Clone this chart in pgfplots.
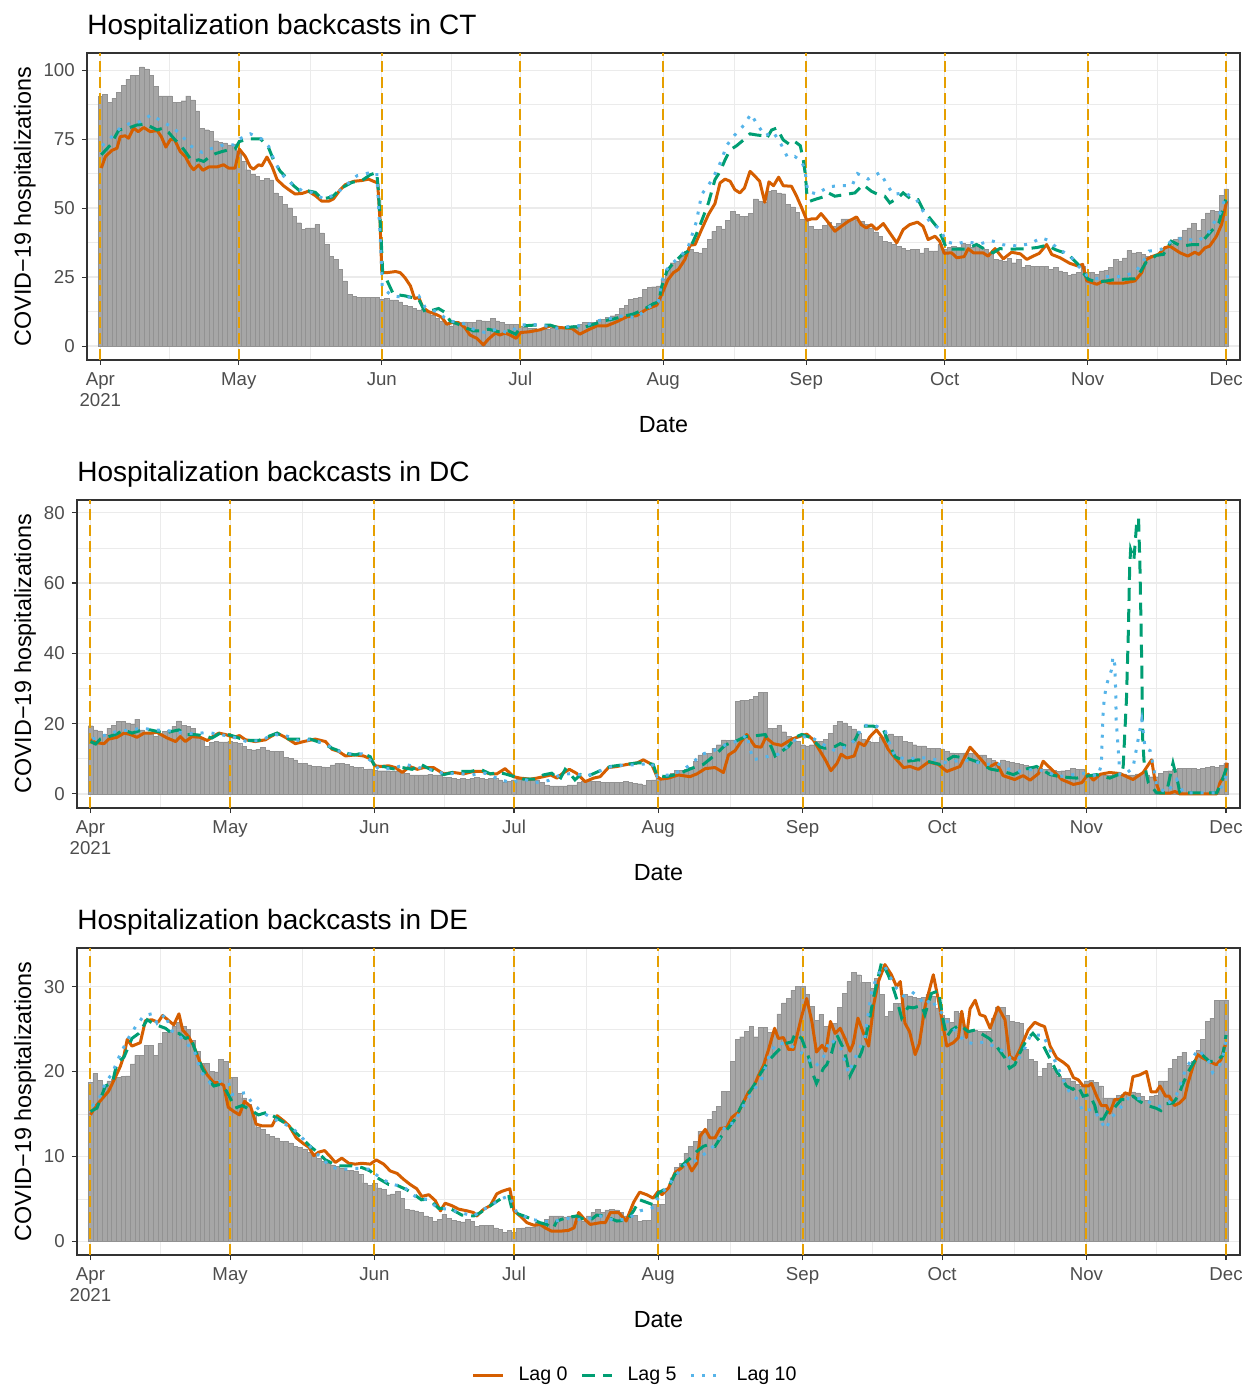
\documentclass[border=0pt]{standalone}
\usepackage{fontspec}
\setmainfont{Liberation Sans}
\usepackage{pgfplots}
\pgfplotsset{compat=1.18}
\definecolor{lag0}{HTML}{D55E00}
\definecolor{lag5}{HTML}{009E73}
\definecolor{lag10}{HTML}{56B4E9}
\definecolor{vlc}{HTML}{E69F00}
\definecolor{barfill}{HTML}{A6A6A6}
\definecolor{baredge}{HTML}{929292}
\definecolor{gridc}{HTML}{EBEBEB}
\definecolor{framec}{HTML}{333333}
\definecolor{tickc}{HTML}{4D4D4D}
\pgfplotsset{
  panel/.style={
    scale only axis, anchor=south west,
    xmin=-2.9, xmax=247,
    xtick={0,30,61,91,122,153,183,214,244},
    xticklabels={{Apr\\2021},May,Jun,Jul,Aug,Sep,Oct,Nov,Dec},
    minor xtick={15,45.5,76,106.5,137.5,168,198.5,229},
    grid=both,
    major grid style={gridc, line width=0.6pt},
    minor grid style={gridc, line width=0.3pt},
    axis line style={framec, line width=0.6pt},
    tick align=outside,
    xtick pos=left, ytick pos=left,
    major tick length=2.6pt, minor tick length=0pt,
    major tick style={framec, line width=0.55pt},
    minor tick style={draw=none},
    xticklabel style={font=\fontsize{9.33}{10.5}\selectfont, text=tickc, align=center},
    yticklabel style={font=\fontsize{9.33}{10.5}\selectfont, text=tickc},
    xlabel={Date}, ylabel={COVID−19 hospitalizations},
    label style={font=\fontsize{11.67}{14}\selectfont},
    xlabel style={at={(axis description cs:0.5,0)}, anchor=center, yshift=-32.5pt},
    title style={font=\fontsize{14}{16}\selectfont, anchor=base west, inner sep=0pt, at={(axis description cs:0,1)}, yshift=3pt},
    /pgf/number format/assume math mode=true,
  },
  barst/.style={ybar, bar width=1, bar shift=0pt, fill=barfill, draw=baredge, line width=0.2pt, forget plot},
  vlst/.style={vlc, line width=1pt, dash pattern=on 5.5pt off 2.5pt, forget plot, unbounded coords=jump},
  l0/.style={lag0, line width=1.5pt, line join=round},
  l5/.style={lag5, line width=1.5pt, dash pattern=on 6.5pt off 4pt},
  l10/.style={lag10, line width=1.5pt, dash pattern=on 1.5pt off 4pt},
}
\begin{document}
\begin{tikzpicture}
% ---------------- CT ----------------
\begin{axis}[panel, at={(43.5pt,514.5pt)}, width=576.5pt, height=153.5pt,
  ymin=-5.05, ymax=106.2, ytick={0,25,50,75,100}, minor ytick={12.5,37.5,62.5,87.5},
  ylabel style={at={(axis description cs:-0.0538,0.5)}, anchor=center},
  title={Hospitalization backcasts in CT}]
\addplot[barst] table[x expr=\coordindex, y index=0, header=false, row sep=\\] {
90.4\\91.3\\88.2\\89.8\\92\\94.6\\96.7\\98.2\\98.2\\101.2\\100.4\\98.2\\94\\90.7\\90.7\\90.7\\88.2\\88.2\\88.9\\90.7\\89.2\\85.2\\79\\78.4\\77.8\\74.4\\73.8\\73.6\\72.9\\73.3\\
69.9\\66.9\\63.9\\62.1\\61.5\\60\\60.9\\60.2\\55.5\\54.3\\51.3\\50.1\\47\\44.7\\42.2\\42.8\\42.8\\44\\41\\36.8\\32.6\\31.4\\27.8\\23.6\\18.8\\17.9\\17.6\\17.6\\17.6\\17.6\\17.6\\
17\\17.2\\16.7\\16.7\\16\\14.8\\14.3\\13.6\\13.1\\13.3\\12.4\\11.2\\10\\9.1\\7.9\\7.3\\7.9\\8.5\\8.8\\8.5\\8.5\\9.5\\9.1\\8.9\\10\\9.1\\8.5\\7.9\\7.9\\7.9\\
7.3\\6.7\\6.4\\6.4\\6.1\\6.4\\6.1\\6.4\\6.1\\6.7\\6.7\\6.4\\7.6\\7.9\\8.5\\8.5\\8.5\\9.5\\9.8\\10.4\\11\\11.6\\13.6\\14.8\\17\\17.2\\17.6\\20.6\\21.2\\21.5\\21.8\\
24.2\\28\\30.2\\30.8\\32.6\\34.4\\35\\34\\33.8\\35.4\\38.6\\41.6\\43.4\\42.5\\45.5\\48.7\\47.7\\47\\47\\48\\53.3\\52.5\\52.1\\56.1\\56.5\\55.5\\55.2\\51.3\\50.4\\48.5\\45.8\\
45.2\\43.4\\42.2\\42.2\\43.8\\44.9\\43.4\\44.4\\46.1\\46.1\\45.8\\45.5\\45.2\\44\\42.8\\41.4\\39.8\\38\\37.7\\36.8\\36.2\\35.3\\34.8\\35\\35\\33.8\\35.3\\34.5\\34.5\\36.8\\
35\\35.7\\36.2\\35.7\\37.2\\36.8\\35.7\\36.8\\35.3\\35\\33.8\\31.4\\31.2\\30.8\\31.8\\30.2\\31.4\\28.4\\29.2\\29\\29\\29\\28.9\\27.8\\28.4\\27.2\\26.6\\25.6\\26.2\\26.6\\28.9\\
26.6\\26.6\\26\\27.2\\27.5\\28.4\\31.4\\30.8\\32\\34.7\\33.8\\34\\33.2\\32.6\\32.8\\32.6\\34.4\\36.2\\36.8\\38.6\\39.6\\41.9\\42.8\\44.4\\41.9\\45.8\\48.3\\49.3\\48.9\\54.5\\57\\
};
\addplot[vlst] coordinates {(0,-5.05)(0,106.2)(0,nan)(30,-5.05)(30,106.2)(30,nan)(61,-5.05)(61,106.2)(61,nan)(91,-5.05)(91,106.2)(91,nan)(122,-5.05)(122,106.2)(122,nan)(153,-5.05)(153,106.2)(153,nan)(183,-5.05)(183,106.2)(183,nan)(214,-5.05)(214,106.2)(214,nan)(244,-5.05)(244,106.2)};
\addplot[l0] coordinates {(0.2,64.5)(1.1,68.7)(2.5,70.9)(3.6,71.7)(4.3,75.9)(5.4,76.2)(6.1,75.3)(7.2,79)(8.2,77.7)(9.4,79.2)(10.8,77.7)(12.3,78.1)(13.2,75.9)(14.2,72.1)(15.2,74.9)(16.1,74.7)(17.3,70.5)(18.4,68.7)(19.5,65.3)(20.2,63.9)(21.3,65.6)(22.2,63.7)(23.5,64.9)(25.3,64.9)(26.7,65.7)(27.8,64.5)(29.2,64.5)(30.1,71.4)(31.4,68.7)(32.5,64.9)(33.2,64.1)(34.3,65.7)(35,65.3)(36.1,68.5)(37.2,65.1)(38.3,60.3)(39.7,58.1)(40.8,56.7)(42.2,55.1)(43.7,55.3)(45.1,56.1)(46.6,54.5)(48,52.5)(49.5,52.5)(50.5,53.3)(52,56.7)(53.1,58.5)(54.9,59.7)(56.7,60)(58.1,60.5)(59.2,59.7)(60.1,59.1)(60.6,45.8)(61,26.6)(62.1,26.6)(64,27)(65,26.6)(66,24.8)(67.2,21.8)(68.1,17.2)(69,17.6)(69.9,14)(71.1,12.5)(72.6,11.6)(74,10.4)(75.1,7.9)(76.2,8.5)(77.6,8.5)(79,6.7)(80.1,4)(81.6,2.8)(83,0.4)(84.1,2.5)(85.6,4.7)(86.6,4)(87.7,4.7)(88.8,4)(90.1,2.8)(91.1,4.9)(93.1,5.2)(95.3,5.9)(97.5,7.3)(99.6,6.7)(102.2,6.4)(103.9,4.3)(105.4,5.6)(107.6,7.3)(109.7,7.3)(111.9,8.8)(114.1,10.6)(116.2,11)(118.4,13.4)(120.6,14.8)(122,20)(123,24)(124.2,26.6)(125.3,27.8)(126.7,31.4)(127.8,36.5)(128.9,36.8)(130.3,42.2)(131.8,47.7)(133.2,51.6)(134.3,59.1)(135.4,60.5)(136.5,59.7)(137.5,56.7)(138.6,55.5)(139.6,57.3)(140.8,63.3)(141.9,61.5)(142.9,59.7)(144,52.1)(144.9,59.5)(145.9,58.1)(147,61.2)(148,58.1)(149.8,57.9)(150.9,54.3)(152,50.1)(153.1,45.6)(154.2,46.1)(155.2,46.1)(156.2,48)(157.4,45.6)(159.2,41.6)(160.6,43.4)(162.1,45.2)(163.9,46.8)(164.9,44)(166,42.8)(167.1,44)(168.2,42.2)(169.7,44.4)(171.1,41)(172.6,37.4)(174,42.2)(175.4,44)(177.1,44.9)(178.3,43.4)(179.4,38.6)(180.9,39.8)(181.9,38)(182.9,33.6)(184.5,33.8)(185.6,32)(187.2,32.4)(188.1,35.3)(189.2,33.8)(191.3,33.8)(192.4,32.6)(193.9,35.3)(195.7,31.6)(197.5,34)(199.4,33.4)(200.8,31.4)(202.2,32.6)(203.5,33.6)(205.1,36.8)(206.2,33.2)(208,32)(210.1,30)(211.9,29)(212.9,29.6)(213.8,23.6)(216,22.4)(217.4,23.6)(218.8,22.8)(221.7,22.8)(224.2,23.6)(225.7,26.6)(226.7,31.4)(228.2,32.6)(229.3,33.2)(230.7,35.6)(231.8,36.2)(234,33.8)(235.7,32.6)(237.2,34)(238.1,33.2)(239.4,35.6)(240.4,36.2)(241.9,39.8)(243,44)(244.1,52.5)};
\addplot[l5] coordinates {(0.2,69.3)(2.2,72.9)(4,78.3)(6.1,79)(7.9,80.1)(9.7,80.5)(12.3,78.3)(13.7,79)(14.8,77.4)(16.2,74.7)(17.3,72.9)(18.4,70.5)(19.9,66.9)(21.3,67.5)(22.4,66.9)(23.8,68.7)(24.9,69.7)(26.4,70.5)(27.8,71.1)(29.2,71.4)(30.1,74.1)(32.1,75.1)(34.7,75.1)(36.5,71.7)(37.5,67.5)(39,63.3)(40.4,60.9)(41.9,58.1)(43.3,56.1)(44.8,56.3)(46.6,55.7)(48,53.3)(50.2,54)(52.3,57.3)(54.5,59.3)(56.7,60)(58.5,62.1)(59.9,62.9)(60.3,55.5)(60.9,37.4)(61.2,26)(62,24.2)(63.5,18.8)(66,18.2)(69,17)(70.4,12.2)(73.3,13.6)(74.7,12.2)(75.8,9.1)(77.6,7.9)(79,6.7)(80.9,5.5)(82.3,5.5)(84.1,6.1)(86.3,5.2)(88.5,5.5)(90,4.3)(91.3,7.3)(94.2,7.6)(97.5,7.6)(99.6,6.4)(102.5,7)(104.7,6.7)(106.9,7.9)(109,9.1)(111.2,9.8)(113.4,10.8)(115.5,11.6)(117.7,13.2)(119.9,15.4)(121,16)(121.7,21.8)(122.8,27.2)(123.8,29.3)(126,33)(127.4,34.4)(128.5,38)(129.6,42.2)(130.7,47)(131.8,51.9)(133.2,60.3)(134.3,63.2)(135.4,67.5)(136.5,71.1)(137.9,72.6)(139.4,74.7)(140.8,76.9)(142.2,76.5)(143.7,76.2)(144.4,75.2)(145.5,78.3)(146.6,79)(148,74.7)(149.5,72.9)(150.5,74.1)(151.7,72.6)(152.4,66.9)(152.8,62.1)(153.1,55.5)(153.8,52.5)(155.2,53.3)(156.6,54)(157.8,55.5)(159.2,54.3)(161.4,54.9)(163.5,55.5)(165.3,58.5)(167.1,56.1)(168.6,54.9)(170,54.3)(171.1,51.9)(172.9,53.7)(174,55.5)(175.8,53.1)(177.2,53.1)(178.3,49.5)(179.7,46.5)(181.2,43.4)(182.3,39.8)(183.4,35.3)(185.2,35.1)(187.4,35.1)(189.9,36.8)(191.7,35.1)(193.5,33.8)(194.9,35.3)(197.1,35.1)(200.8,35.3)(203,35.7)(205.1,36.5)(207.2,34.8)(208.6,34)(210.1,32.6)(211.9,29.6)(213,26.6)(214.1,24.2)(215.9,23.2)(218.1,23.6)(219.5,24)(221.7,24.2)(224.2,24.4)(225.3,26.6)(226.7,30.5)(228.9,32.9)(230.4,33.2)(232.1,38)(234.3,36.2)(236.8,36.8)(238.2,36.8)(239.7,39.6)(241.1,42.2)(242.4,44.6)(243.9,53.1)};
\addplot[l10] coordinates {(0.4,72.6)(2.5,75.9)(4.3,79)(6.5,80.8)(8.7,81.3)(11,83.8)(13.4,81.3)(15.4,79.5)(17.3,76.9)(19.5,72.6)(22,70.2)(24.3,71.7)(26.7,72.9)(28.9,72.9)(30.1,75)(32.5,76.9)(35,75)(36.5,72.3)(37.9,66.3)(39.7,61.6)(41.5,58.8)(43.7,56.3)(45.8,55.7)(48.4,53.3)(50.9,54.9)(53.4,58.5)(55.6,61.7)(58.1,62.7)(59.9,62.7)(60.3,50.6)(60.6,41)(61,26.6)(61.1,21.2)(63.2,18.2)(66,17.6)(69,18.2)(70.4,14)(73.3,12.2)(75.4,9.1)(78.3,8.5)(80.9,6.1)(83.4,4.9)(85.9,6.1)(88.5,4.7)(91,7.6)(93.5,7.9)(96.4,7.3)(99.3,6.4)(102.2,7.3)(105,7.3)(107.6,9.1)(110.5,10)(113.4,11)(116.2,10.2)(118.4,13.6)(120.9,16)(121.7,23.6)(122.8,27.8)(123.8,29.8)(125.6,32.3)(127.4,35.9)(129.2,45.2)(130.3,54.9)(132.1,59.1)(133.5,63.3)(134.7,67.7)(135.7,72.6)(137.5,76.5)(139.5,80.1)(141,84.1)(142.6,79.7)(144.1,76.2)(145.8,77.7)(147.6,72.9)(148.9,68.5)(150.5,68.7)(152,66.9)(152.7,63.9)(153.3,56.1)(155.2,55.1)(157.8,57.7)(160,58.1)(162.9,58.1)(164.1,62.5)(166.4,60.5)(169,62.9)(170.4,58.8)(171.8,55)(174.4,55.5)(176.9,53.1)(178.3,48.9)(179.7,45.2)(181.9,42.5)(183.4,37.8)(185.2,37)(187.7,37.8)(190.6,37)(193.1,38.2)(195.7,36.7)(198.6,36.3)(201.4,37)(203.9,39.2)(205.6,38.3)(207.6,35.1)(210.1,32.9)(211.9,29.2)(213.8,25.6)(216,24.4)(218.4,25.2)(221.3,25.2)(224.2,26.6)(226,30.5)(227.3,34.4)(230,35.1)(232.1,38)(234.7,39.2)(237.5,38)(239.7,39.8)(241.1,44)(242.6,47.9)(243.7,53.2)};
\end{axis}
% ---------------- DC ----------------
\begin{axis}[panel, at={(38.5pt,290.5pt)}, width=581.5pt, height=154pt,
  ymin=-4, ymax=83.6, ytick={0,20,40,60,80}, minor ytick={10,30,50,70},
  ylabel style={at={(axis description cs:-0.0447,0.5)}, anchor=center},
  title={Hospitalization backcasts in DC}]
\addplot[barst] table[x expr=\coordindex, y index=0, header=false, row sep=\\] {
19.4\\18.2\\17.9\\17\\18.7\\19.6\\20.6\\20.6\\20.2\\19.9\\21.3\\18.2\\17.3\\17\\16.4\\17\\17.8\\18.2\\19.2\\20.8\\19.6\\19.2\\18.7\\16.4\\15.5\\13.6\\14.6\\14.9\\14.8\\14.8\\
15.1\\14.6\\14.4\\13.6\\12.7\\12.5\\12.7\\13.2\\12.5\\12.2\\12.2\\12.2\\10.4\\10.2\\9.7\\8.7\\8.7\\8.3\\7.8\\7.8\\7.7\\7.5\\8.3\\8.7\\8.7\\8.5\\7.8\\7.5\\7.5\\7\\7.1\\
6.8\\6.6\\6.6\\6.6\\6.4\\6.6\\6.1\\5.9\\5.4\\5.4\\5.4\\5.4\\5.6\\5.4\\5.4\\4.7\\4.7\\4.5\\4.2\\4.5\\4.2\\4.5\\4.7\\4.5\\4.2\\4.5\\4.5\\4\\3.2\\3.5\\
4\\4.2\\4.5\\4.5\\4\\4\\3.2\\2.6\\2.3\\2.3\\2.3\\2.3\\2.6\\2.6\\3.2\\3.5\\3.5\\3.6\\3.5\\3.2\\3.2\\3.2\\3.2\\3.2\\3.5\\3.2\\3\\2.9\\2.6\\3.8\\4\\
4.7\\4.5\\4.9\\5.9\\6.8\\6.8\\7\\7.6\\9.2\\11.1\\11.6\\11.6\\13\\14\\15.4\\15.2\\15.4\\26.3\\26.6\\26.6\\27\\27.7\\28.9\\28.9\\18.7\\18.7\\19.6\\17.7\\16.3\\16.1\\14.9\\
14\\13.7\\14\\14.9\\14.9\\15.6\\17.3\\19.6\\20.6\\20.2\\19.2\\18.5\\17.3\\15.6\\14.9\\14.7\\14.6\\16.1\\16.8\\17.1\\16.3\\16.3\\14.9\\14.7\\14\\13.7\\13.7\\13\\13\\13\\
12.8\\12.1\\11.7\\11.6\\11.6\\11.7\\11.6\\11.6\\11.1\\11.1\\10.2\\9.5\\8.7\\9.7\\9.2\\9\\8.7\\8.5\\8.1\\7.9\\7.5\\7.2\\7\\7\\6.8\\6.4\\6.6\\6.8\\7.2\\7\\7\\
5.7\\5.4\\5.4\\5.7\\5.4\\5.4\\6.1\\5.7\\5.7\\5.4\\5.4\\5.7\\5.9\\5.4\\4.9\\4.9\\5.9\\6.4\\6.6\\6.9\\7.2\\7.2\\7.2\\7.2\\6.9\\7.2\\7.6\\7.8\\7.6\\8.2\\8.7\\
};
\addplot[vlst] coordinates {(0,-4)(0,83.6)(0,nan)(30,-4)(30,83.6)(30,nan)(61,-4)(61,83.6)(61,nan)(91,-4)(91,83.6)(91,nan)(122,-4)(122,83.6)(122,nan)(153,-4)(153,83.6)(153,nan)(183,-4)(183,83.6)(183,nan)(214,-4)(214,83.6)(214,nan)(244,-4)(244,83.6)};
\addplot[l0] coordinates {(0,15.4)(1.1,14.6)(2.9,14.3)(3.9,15.6)(5.7,16.1)(7.2,17.3)(8.6,16.9)(10,16.1)(11.5,17.3)(12.9,17.3)(14.3,17.5)(16.5,15.9)(18.3,14.9)(19.3,16.3)(20.4,14.9)(21.8,16.3)(23.6,16.1)(25.1,15.2)(26.5,16.5)(27.6,17.3)(29,16.9)(30.8,16.1)(32,16.6)(33.3,15.4)(35.4,14.9)(37.6,15.4)(38.7,16.3)(40.1,17.3)(41.9,16.1)(44,14.3)(45.8,14.9)(48.3,15.6)(50.5,14.9)(51.9,12.7)(53.3,12.1)(54.8,10.8)(56.9,11.1)(58.7,10.8)(60.1,10)(61.2,8)(62.3,7.8)(64.1,8)(65.5,7.5)(67,6.1)(68.6,7.8)(70.2,7)(71.6,7.5)(73.7,7.5)(75.9,5.7)(78,6.1)(80.2,5.7)(82.3,6.4)(84.1,6.4)(85.9,5.7)(87.3,5.7)(89.1,7.2)(90.9,4.9)(92.3,4.5)(94.5,4.2)(95.9,4.5)(97.3,4.9)(98.9,5.4)(100.2,4.5)(101.5,5.9)(102.9,7)(104.4,5.9)(106.3,3.5)(108.1,4.5)(109.5,4.9)(111.3,7.5)(113.1,7.8)(115.3,8.4)(117.4,8.8)(118.8,9.7)(120.6,8.4)(121.7,5)(122.5,4.2)(124.2,4.5)(126.3,5.4)(128.8,4.9)(130.3,5.7)(132.1,7.2)(134.2,7.5)(136,6.1)(137.1,11.1)(138.5,12.3)(139.8,14.9)(141,16.9)(142.8,13.5)(144.1,13.3)(145.1,16.1)(146.7,14.3)(148.5,13.8)(150.7,15.6)(152.3,16.3)(153.9,17)(155.3,15.4)(156.4,13)(157.9,9.7)(159.1,6.6)(160.4,8.7)(161.3,11.3)(162.5,10.2)(164.1,10.8)(165.1,14.6)(166.3,13.7)(167.5,16.3)(168.9,18.2)(170,16.3)(171.4,12.7)(172.9,10.2)(174.7,7.5)(176.1,7.8)(177.9,7)(180.1,9.1)(182.2,8.4)(184,6.4)(186.8,7.8)(189,13.3)(191.1,10.2)(192.9,7.5)(194.7,8.8)(196.1,5.2)(198.6,4.1)(200.4,5.2)(201.9,3.9)(203.7,5.8)(204.7,9.3)(206.5,7)(208.7,4.1)(211.2,2.7)(213,3.2)(214.4,5.6)(215.5,3.9)(217,5.6)(219,6.1)(221.2,5.8)(224,4.1)(226.2,6.1)(228,9.7)(228.7,4.1)(229.8,0.2)(231.9,0.2)(233,0.7)(234.1,0)(242,0)(242.7,3.2)(243.8,5.6)(244.2,8.9)};
\addplot[l5] coordinates {(0,14.9)(1.1,14.2)(2.1,15.6)(5.4,16.9)(7.2,18.2)(8.9,17.3)(11.1,18.2)(12.9,18.2)(14.3,17.8)(16.1,17.3)(17.5,17.8)(19,18.2)(20.4,16.9)(22.2,16.9)(24.3,16.6)(26.1,15.9)(27.9,17.3)(30.4,16.6)(33.3,15.2)(36.1,15.2)(38.7,16.6)(40.1,17.3)(42.6,15.6)(44.7,15.6)(47.2,15.6)(50.1,14.3)(51.9,13)(53.3,12.3)(55.5,11.4)(56.9,11.1)(58.3,11.6)(60.1,10.6)(61.1,7.8)(63,7.8)(65.1,7.1)(67,7.5)(69.1,7)(71,8.4)(73,7)(75.9,5.5)(78.7,6.4)(81.7,6.4)(83.8,7)(85.9,5.7)(87.7,6.1)(89.1,5.7)(90.6,5.1)(93.1,4.2)(95.9,4.2)(97.3,5.4)(99.1,5.9)(100.8,4)(102,7)(103.1,5.7)(104.1,4)(105.3,5.5)(106.6,4.9)(109.5,6.6)(111.7,7.8)(114.5,8.3)(117.4,8.8)(119.5,8.8)(120.9,8.4)(121.7,5.2)(123.8,4.9)(126.3,5.7)(129.6,7.5)(131.7,8.4)(134.2,11.1)(136.5,14)(138.5,14.9)(140.7,16.3)(143.2,16.6)(145,16.9)(146.4,13)(147.1,10.8)(150,13.5)(151.4,16.1)(152.8,16.9)(154.6,16.1)(156.8,13.3)(157.9,13)(160,13.5)(161.1,14.3)(162.5,13.5)(164.3,15.4)(165.7,19.3)(168.2,19.3)(170.4,18.2)(171.8,13.5)(172.9,10.6)(175,9.2)(177.9,9.7)(180.1,9.2)(182.5,8.4)(185.4,10.7)(188.3,10.2)(191.2,8.8)(193.3,7.1)(196.1,6.4)(198.3,5.5)(201.1,7.1)(203.3,7.8)(206.2,5.5)(208.3,4.9)(211.9,4.5)(213.3,4.9)(216.2,5.5)(219,4.5)(221.6,5.9)(221.9,7.8)(222.6,26.8)(223,45.7)(223.3,64.7)(223.5,69.5)(224.2,66.6)(224.8,77.1)(225.2,78.5)(225.5,64.7)(225.9,36.2)(226.1,15.4)(226.4,8.8)(227.3,3.2)(229.1,0.3)(231.2,0.3)(232.6,8.8)(233.5,4.1)(234.1,0.3)(242,0.3)(243,3.2)(244.2,7.8)};
\addplot[l10] coordinates {(0.4,15.6)(2.9,16.6)(5.7,17.8)(8.6,18.2)(11.1,18.7)(13.6,18.2)(16.5,18)(19.3,17.5)(22.2,17.1)(25.1,17.5)(27.9,16.9)(30.8,16.1)(33.6,14.9)(36.5,15.2)(39.4,16.9)(41.9,16.6)(44.7,15.2)(47.6,15.4)(50.5,14.2)(53,12.3)(55.8,11.4)(58.3,11.4)(60.5,9.2)(61.9,7.1)(64.8,7.2)(67.7,8.4)(70.5,7.5)(73.3,6.8)(76.2,5.7)(79,5.9)(81.9,5.4)(84.8,5.9)(87.3,4.5)(90.2,3.2)(93.1,4.2)(95.5,3.2)(98.4,3.8)(100.9,5.4)(103.8,5.9)(106.5,5)(109.5,6.6)(112,7.8)(114.9,8.3)(117.7,8.3)(120.6,8.8)(121.8,5)(124.2,5.4)(127.1,6.6)(129.2,8.7)(131.4,11.3)(133.9,12.3)(136.5,14)(139.9,15.4)(141,17)(141.7,12.9)(142.4,9.7)(145.3,10.6)(147.8,11.3)(150,13.7)(152.1,16.3)(154.9,16.1)(157.5,14)(160,12.3)(162.5,13.5)(164.3,15.4)(166.1,19.5)(168.6,19.5)(170.8,17.8)(171.8,14)(172.9,10.6)(175.4,9.9)(178.2,10.4)(181.1,9.9)(184,8.8)(186.5,9.5)(189.3,9.5)(192.2,8.3)(194.7,8.8)(197.2,7.1)(200,6.4)(202.8,7.1)(205.4,6.4)(207.8,4.9)(210.8,5.4)(213.7,5.9)(216.5,5.1)(217.2,8.3)(217.4,16.3)(217.6,23.9)(217.9,27.6)(218.3,31)(219.4,35.3)(219.7,39)(220.1,36.7)(220.3,28.6)(220.4,21)(220.8,13.5)(221.2,5.5)(222.2,5.5)(224,7.4)(225.1,15.4)(225.9,21.1)(226.6,13)(227.7,12.3)(228.4,7.8)(229.1,2.1)(231.2,0.3)(233.4,4.1)(234.8,0.3)(242,0.3)(243.4,2.7)(244.2,6)};
\end{axis}
% ---------------- DE ----------------
\begin{axis}[panel, at={(38.5pt,67pt)}, width=581.5pt, height=153.5pt,
  ymin=-1.6, ymax=34.55, ytick={0,10,20,30}, minor ytick={5,15,25},
  ylabel style={at={(axis description cs:-0.0447,0.5)}, anchor=center},
  title={Hospitalization backcasts in DE},
  legend columns=3,
  legend style={at={(axis description cs:0.4807,-0.392)}, anchor=center, draw=none, fill=none,
    font=\fontsize{9.8}{11.5}\selectfont,
    /tikz/every odd column/.append style={column sep=5pt},
    /tikz/every even column/.append style={column sep=4.5pt}},
  legend image code/.code={\draw[#1] (0pt,0pt) -- (15pt,0pt);}]
\addplot[barst] table[x expr=\coordindex, y index=0, header=false, row sep=\\] {
18.7\\19.8\\19\\18.3\\18.9\\19.1\\19.3\\19.4\\19.5\\20.9\\21.9\\21.9\\23.1\\23.1\\21.9\\23.3\\24.6\\24.6\\25.3\\25.8\\25.3\\25\\23.7\\22.4\\21\\21\\20\\19.9\\21.4\\21.2\\
19.3\\19.3\\17.4\\16.9\\16.1\\15.1\\13.4\\13.2\\12.6\\12.4\\12.2\\11.8\\11.8\\11.6\\11.2\\11.1\\10.9\\10.5\\10\\9.8\\9.4\\9.2\\9\\8.8\\8.6\\8.4\\8.4\\8.3\\7.9\\6.9\\6.6\\
6.8\\6.3\\6.1\\5.5\\5.6\\5.9\\5.1\\3.8\\3.7\\3.6\\3.4\\3\\2.8\\2.4\\2.6\\3.2\\2.7\\2.5\\2.4\\2.3\\2.6\\2.4\\1.8\\1.9\\1.9\\1.9\\1.6\\1.4\\1.1\\1.3\\
1.1\\1.5\\1.6\\1.7\\1.7\\2.3\\2.3\\2.6\\3\\3\\3\\2.9\\3\\2.9\\3\\2.4\\3\\3.4\\3.8\\3.4\\3.7\\3.8\\3.7\\3.4\\3\\3\\3.1\\2.4\\2.5\\2.5\\4.4\\
4.4\\4.4\\6.3\\7.5\\8.7\\9.2\\10.4\\11.2\\11.8\\13\\13\\14.4\\15.3\\15.9\\17.7\\17.7\\21.2\\23.8\\24.1\\24.7\\25.3\\24.1\\25.2\\25.2\\24.6\\24.7\\26.8\\28.1\\28.6\\29.6\\30\\
30\\29.1\\27.7\\26\\26.7\\25.3\\25.4\\25.7\\27.6\\29.2\\30.6\\31.7\\31.4\\30.5\\30.5\\29.8\\31\\29.1\\26.5\\27.1\\28\\28\\29.1\\28.9\\28.7\\28.6\\28.7\\29.1\\28.9\\27.5\\
26.6\\26.3\\25.8\\27.1\\26.9\\25.2\\24.7\\24.9\\24.7\\24.7\\24.7\\26.3\\27.6\\27.6\\26.6\\25.9\\25.8\\25.7\\22.6\\21.4\\21.2\\19.4\\20.4\\21\\20.4\\19.4\\19.2\\19.2\\18.9\\18.5\\18.3\\
18.9\\19\\18.7\\18.3\\16.9\\16.9\\16.9\\17.2\\17.3\\17.5\\17.6\\17.5\\17.1\\16.6\\17.1\\17.2\\18.9\\18.9\\20.4\\21.4\\21.8\\22.3\\20.8\\21.2\\22.5\\23.8\\25.9\\26.3\\28.4\\28.4\\28.4\\
};
\addplot[vlst] coordinates {(0,-1.6)(0,34.55)(0,nan)(30,-1.6)(30,34.55)(30,nan)(61,-1.6)(61,34.55)(61,nan)(91,-1.6)(91,34.55)(91,nan)(122,-1.6)(122,34.55)(122,nan)(153,-1.6)(153,34.55)(153,nan)(183,-1.6)(183,34.55)(183,nan)(214,-1.6)(214,34.55)(214,nan)(244,-1.6)(244,34.55)};
\addplot[l0] coordinates {(0,14.9)(1.1,15.9)(2.5,16.8)(3.9,17.7)(5.4,19.4)(6.4,20.6)(7.2,21.9)(7.9,23.8)(8.9,23)(10.7,23.4)(11.8,26)(13.2,26.1)(14.5,25.8)(15.5,26.6)(16.8,26)(17.9,25.5)(19,26.8)(19.8,24.9)(21.1,24.1)(22.2,23)(23.6,21)(25.1,19.6)(26.5,18.7)(27.6,18.7)(28.6,18.4)(29.6,15.8)(30.8,15.3)(32,14.9)(33.1,16.5)(34.4,15.9)(35.6,13.8)(36.9,13.6)(39,13.6)(40.1,14.8)(41.5,14.2)(42.7,13.6)(44.2,12.2)(45.8,11.5)(46.9,11.1)(48,10.1)(49,10.5)(50.3,10.7)(51.5,10)(52.6,9.3)(54,9.8)(55.5,9.2)(56.9,9.1)(58.3,9.2)(60.1,9.1)(61.4,9.6)(63,9.1)(64.4,8.3)(65.9,8)(67.3,7.3)(68.7,6.7)(70.1,6.2)(71.2,5.3)(72.7,5.5)(74.1,4.8)(75.2,3.6)(76.2,4.5)(77.7,4.2)(79.1,3.8)(80.9,3.6)(82.3,3.4)(83,3)(84.5,3.8)(85.9,4.2)(87.3,5.6)(88.4,5.9)(90.1,6.2)(91,3.6)(92.3,3)(93.8,2.2)(95.3,1.9)(96.6,2)(97.7,1.6)(99.1,1.2)(100.9,1.2)(102.7,1.3)(103.9,1.6)(104.9,3.4)(106,2.7)(107.4,2)(109.5,2.2)(110.6,2.2)(111.7,3.4)(113.5,3.4)(115.1,2.4)(116.7,4.6)(118,5.8)(119.5,5.5)(120.9,5.1)(122,5.9)(122.8,5.5)(124.2,6.3)(125.6,8.1)(127.1,8.7)(128.1,9.5)(129.2,8.3)(130.3,9.2)(131,12.4)(132.1,13.2)(133.1,12.2)(134.2,12.2)(135.3,13.3)(136.7,13.4)(137.8,14.6)(139.2,15.2)(140.3,16.4)(141.4,17.6)(142.5,18.2)(143.5,19.5)(144.6,20.7)(145.7,22.6)(147,25.1)(147.8,23.9)(148.9,24)(150,22.6)(151.1,22.6)(152.1,24.9)(152.8,26.5)(153.9,28.6)(155,25.9)(156,22.3)(157.2,23.1)(158,22.4)(159,25.9)(160,24.5)(161.1,25.1)(162.2,23.8)(163.2,22.4)(163.9,23.3)(164.9,26.3)(166.1,24.5)(167.2,23)(168.3,27.9)(169.3,30.6)(170.7,32.6)(172.1,31.4)(173.2,30)(174,30.6)(175,25.7)(176,24.7)(177.2,22)(178.1,23.3)(179.3,27.6)(181.1,31.4)(182.2,28.4)(183.2,25.3)(184,23)(185.4,23.4)(186.5,24)(187.2,27.1)(188.2,24)(189,27.4)(190.1,28.4)(191.1,26.7)(192.2,26.5)(193.3,25.1)(195,27.6)(196.5,26.1)(197.5,21.8)(198.6,21.4)(199.7,22.6)(201.5,24.9)(202.9,25.8)(204,25.5)(205,25.3)(206.2,23)(207.6,21.6)(209,21.1)(210.1,20.6)(211.2,19.3)(212.3,19)(213.3,18.3)(214.4,18.3)(215.1,18.6)(216.2,17.1)(217.2,16)(218.3,16)(219,15.1)(220.1,16.7)(221.2,16.7)(222.3,17.5)(223.3,17.3)(224,19.4)(225.4,19.6)(226.9,20)(227.9,17.6)(229,17.6)(229.8,18.3)(231,17.1)(231.8,17.1)(232.9,16)(234,16.3)(235.1,16.9)(235.8,18.6)(236.9,20.6)(237.9,22)(239,21.6)(240.4,21.2)(241.9,20.8)(242.9,21.4)(243.9,23.3)};
\addlegendentry{Lag 0}
\addplot[l5] coordinates {(0,15.3)(1.4,15.7)(3.2,18.3)(4.7,18.7)(5.7,21)(7.2,21.7)(8.9,23.9)(10.4,24.5)(12.2,26.1)(13.6,25.6)(16.1,25.1)(17.5,24.5)(19,24.5)(20.4,23.9)(21.5,24.1)(22.5,22.5)(24,20.4)(25.4,19)(26.5,18.3)(27.9,18.5)(29,17.9)(29.8,17.1)(31.1,15.7)(32.6,16)(34,15.6)(36.1,14.9)(37.9,15.2)(40.1,14.5)(41.9,13.9)(43.7,13)(45.5,12.1)(47.2,11.2)(49,10.4)(50.5,9.6)(53,8.9)(54.8,8.9)(56.2,8.9)(58.3,8.7)(60.1,8.3)(61.6,7.5)(64.1,6.7)(65.9,6.6)(67.9,6.1)(69.6,5.5)(71.1,4.9)(72.7,5)(74.8,3.9)(77.2,3.9)(79.8,3.1)(82.4,3)(83.8,3.4)(85.6,4.1)(87,4.6)(88.4,5.1)(89.9,5.3)(90.6,3.7)(91.6,3.3)(93.1,3)(94.9,2.6)(96.6,2.2)(98,2)(99.4,1.5)(100.2,2.4)(102.3,2.8)(104.5,3)(106,2.6)(107.4,2.5)(108.8,3.1)(110.2,3)(111.7,2.7)(113.1,2.4)(115.3,2.5)(116.7,3.6)(118,4.9)(121,4.3)(122,5.7)(124.2,6.4)(125.6,7.9)(127.4,9.1)(128.9,9.8)(130.3,10.6)(131.7,11.2)(132.8,11.4)(134.2,11.2)(135.6,12.4)(137.1,13.4)(138.5,14.4)(139.9,16)(141.4,17.4)(142.8,18.6)(143.9,19.7)(145.3,20.9)(146.4,21.7)(147.8,22.5)(149.3,23.3)(150.7,23.5)(151.4,24.5)(152.8,23.9)(154.3,21.7)(155.1,19.9)(156,18.6)(157.5,20.4)(158.2,20.8)(159.3,22.3)(160.3,24.4)(161.8,22.7)(162.5,21.3)(163.2,19.5)(164.3,20.7)(165.7,22.3)(167.2,25.5)(168.2,28.6)(170,32.9)(171.4,31.4)(172.5,29.8)(173.2,28.6)(174.3,26.3)(175.7,27.6)(176.8,27.5)(178.6,27.8)(179.3,26.7)(180.7,29.2)(182.2,29.5)(183.2,26.1)(184,24.1)(185,24.9)(186.8,25.5)(188.6,24.7)(190.1,24.9)(193.1,23.9)(194.5,23.1)(196.5,21.6)(197.5,20.4)(198.6,20.8)(199.7,22.2)(201.1,23.7)(202.5,24.5)(204.7,23.1)(205.8,21.9)(207.6,20)(208.7,19.2)(209.7,18.3)(211.1,17.9)(212.2,18.3)(213.3,17.1)(214.7,17.3)(215.8,16)(216.5,14.4)(217.6,14.4)(218.6,15.4)(220.1,15.8)(221.5,16.7)(222.5,16.7)(224,17.1)(225.4,16.5)(227.1,16)(228.9,15.7)(230,15.4)(231.2,16.2)(232.6,16.3)(233.7,17.1)(234.7,18.5)(235.9,20)(237.2,21.2)(239,21.9)(240.4,21.2)(241.9,21.2)(243.3,21.9)(244,24.3)};
\addlegendentry{Lag 5}
\addplot[l10] coordinates {(0.4,15.9)(2.1,17.1)(3.2,18.7)(4.7,19.8)(5.7,21.2)(6.8,22.5)(8.1,23.9)(9.7,25.3)(11.5,26.6)(13.2,26.8)(14.3,25.7)(16.1,26.8)(17.2,24.9)(19.3,24.1)(20.4,23.3)(22.2,22.7)(22.9,21.3)(24,19.8)(25.8,18.6)(28.3,18.9)(29.7,18.7)(30.4,17.3)(33.3,17.5)(34.7,16.3)(36.9,15.2)(39.4,14.4)(41.2,14)(43.7,13.2)(45.8,12)(47.6,10.9)(49.8,9.7)(51.9,8.7)(54.4,8.5)(57.3,8.6)(59.8,8.5)(62,7.6)(64.4,6.8)(67.3,6.4)(69.8,5.3)(72.3,4.9)(74.8,3.9)(76.9,3.8)(79.4,3.4)(82.3,3)(85.2,4)(88,4.9)(89.9,5.4)(91.6,3.4)(94.5,2.6)(97,2.4)(99.1,2.3)(102.3,2.7)(105,2.6)(107,2.7)(109.5,3)(112.4,2.5)(115.3,2.6)(118.1,3.6)(121,4)(122,5.2)(124.2,6.6)(125.6,7.7)(127.7,9)(130,9.5)(132.4,10.5)(134.6,11.6)(136.7,13.9)(138.2,13.9)(139.6,15.3)(140.7,16.4)(142.5,17.8)(144.2,19.1)(146.1,22.3)(147.7,23.4)(150.3,23.1)(151.9,22.6)(153.9,21.7)(155.7,20.6)(157.3,21.4)(158.9,23.8)(161.1,23)(162.9,19.8)(164.3,21.6)(166.4,24.1)(167.8,29.3)(169.1,31.4)(170.7,32.4)(172.9,30)(174.7,28.9)(176.5,29.4)(178.2,28.6)(179.3,27.8)(180.7,28.6)(182,27.3)(183.2,26.8)(184.3,25.7)(185,25.3)(187.9,23.5)(189.7,23.3)(192.2,23.5)(194,23)(195.8,22.5)(197.5,21.6)(199.3,21.4)(200.8,22.8)(202,24.3)(204.7,24.3)(207.2,21.3)(209.4,18.6)(210.5,17.4)(212.2,16.7)(213.2,15.3)(215.5,15.6)(217,14.3)(218.1,13.2)(219.4,14.6)(221.1,15.6)(222.9,16.8)(225.4,16.8)(227.1,16.5)(229.8,15.9)(231.9,16.4)(233.4,17.3)(235.4,20.4)(238,22.6)(240.2,21.3)(241.1,19.9)(242.7,20.8)(243.4,22.1)(244,23.7)};
\addlegendentry{Lag 10}
\end{axis}
\pgfresetboundingbox
\useasboundingbox (0,0) rectangle (622.5pt,694.5pt);
\end{tikzpicture}
\end{document}
